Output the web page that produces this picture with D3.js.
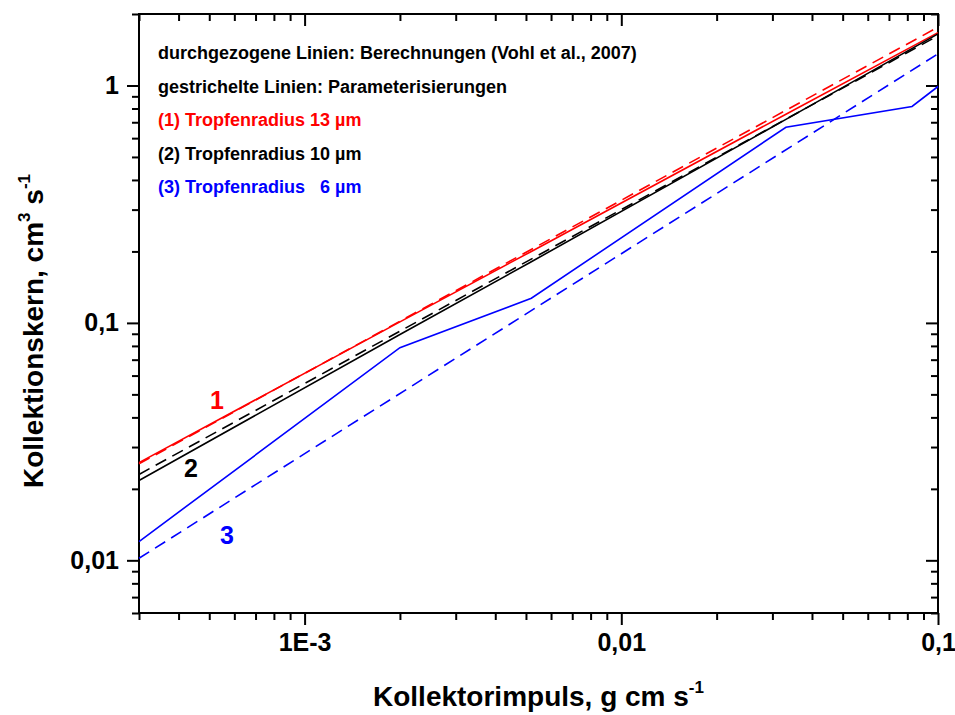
<!DOCTYPE html>
<html lang="de">
<head>
<meta charset="utf-8">
<title>Kollektionskern</title>
<script src="https://d3js.org/d3.v7.min.js"></script>
<style>
  body{margin:0;background:#fff;font-family:"Liberation Sans",Arial,sans-serif;}
  .axis path{stroke:#000;stroke-width:2px;}
  .axis line{stroke:#000;stroke-width:2px;}
  .axis text{font-size:25px;font-weight:bold;fill:#000;font-family:"Liberation Sans",Arial,sans-serif;}
</style>
</head>
<body>
<div id="chart"></div>
<script>
// data (x: g cm/s, y: cm^3/s)
var redSolid   = [[3e-4,0.0258],[2e-3,0.101],[5.2e-3,0.2],[0.0331,0.757],[0.1,1.67]]
var redDashed  = [[3e-4,0.0255],[0.1,1.76]]
var blackSolid = [[3e-4,0.0217],[2e-3,0.0893],[5.2e-3,0.181],[0.0331,0.72],[0.1,1.65]]
var blackDashed= [[3e-4,0.023],[0.1,1.62]]
var blueSolid  = [[3e-4,0.012],[2e-3,0.0786],[5.2e-3,0.127],[0.0331,0.667],[0.0828,0.816],[0.1,0.99]]
var blueDashed = [[3e-4,0.0102],[0.1,1.36]]

var xMajor = [1e-3,0.01,0.1]
var xLabels = ["1E-3","0,01","0,1"]
var yMajor = [0.01,0.1,1]
var yLabels = ["0,01","0,1","1"]

var legendLines = [
  ["durchgezogene Linien: Berechnungen (Vohl et al., 2007)","#000"],
  ["gestrichelte Linien: Parameterisierungen","#000"],
  ["(1) Tropfenradius 13 \u00b5m","#ff0000"],
  ["(2) Tropfenradius 10 \u00b5m","#000"],
  ["(3) Tropfenradius \u00a0\u00a06 \u00b5m","#0000ff"]
]

var W = 955, H = 715
var pL = 139, pR = 938, pT = 14, pB = 613

var svg = d3.select("#chart").append("svg").attr("width",W).attr("height",H)

var x = d3.scaleLog().domain([3e-4,0.1]).range([pL,pR])
var y = d3.scaleLog().domain([0.006,2]).range([pB,pT])

// minor tick values
var xMinor = []
;[1e-4,1e-3,1e-2].forEach(function(d){
  for(var k=2;k<=9;k++){ var v=d*k; if(v>=3e-4-1e-12 && v<=0.1) xMinor.push(v) }
})
var yMinor = []
;[1e-3,1e-2,1e-1,1].forEach(function(d){
  for(var k=2;k<=9;k++){ var v=d*k; if(v>=0.006-1e-12 && v<=2+1e-9) yMinor.push(v) }
})

function fmt(vals,labels){ return function(d){ var i=vals.indexOf(d); return i<0?"":labels[i] } }

// bottom: outward
svg.append("g").attr("class","axis").attr("transform","translate(0,"+pB+")")
  .call(d3.axisBottom(x).tickValues(xMinor).tickSize(7).tickFormat(""))
svg.append("g").attr("class","axis").attr("transform","translate(0,"+pB+")")
  .call(d3.axisBottom(x).tickValues(xMajor).tickSize(12).tickPadding(8).tickFormat(fmt(xMajor,xLabels)))
// top: inward
svg.append("g").attr("class","axis").attr("transform","translate(0,"+pT+")")
  .call(d3.axisBottom(x).tickValues(xMinor).tickSize(7).tickFormat(""))
svg.append("g").attr("class","axis").attr("transform","translate(0,"+pT+")")
  .call(d3.axisBottom(x).tickValues(xMajor).tickSize(12).tickFormat(""))
// left: outward
svg.append("g").attr("class","axis").attr("transform","translate("+pL+",0)")
  .call(d3.axisLeft(y).tickValues(yMinor).tickSize(7).tickFormat(""))
svg.append("g").attr("class","axis").attr("transform","translate("+pL+",0)")
  .call(d3.axisLeft(y).tickValues(yMajor).tickSize(12).tickPadding(8).tickFormat(fmt(yMajor,yLabels)))
// right: inward
svg.append("g").attr("class","axis").attr("transform","translate("+pR+",0)")
  .call(d3.axisLeft(y).tickValues(yMinor).tickSize(7).tickFormat(""))
svg.append("g").attr("class","axis").attr("transform","translate("+pR+",0)")
  .call(d3.axisLeft(y).tickValues(yMajor).tickSize(12).tickFormat(""))

svg.selectAll(".axis path").remove()
svg.append("rect").attr("x",pL).attr("y",pT).attr("width",pR-pL).attr("height",pB-pT)
  .attr("fill","none").attr("stroke","#000").attr("stroke-width",2)

var line = d3.line().x(function(d){return x(d[0])}).y(function(d){return y(d[1])})
var series = [
  [redDashed,"#ff0000",true],
  [blackDashed,"#000",true],
  [blueDashed,"#0000ff",true],
  [redSolid,"#ff0000",false],
  [blackSolid,"#000",false],
  [blueSolid,"#0000ff",false]
]
series.forEach(function(s){
  svg.append("path").datum(s[0]).attr("d",line)
    .attr("fill","none").attr("stroke",s[1]).attr("stroke-width",1.6)
    .attr("stroke-dasharray",s[2]?"12,7":null)
})

// curve numbers
var nums = [["1",217,409,"#ff0000"],["2",191,477,"#000"],["3",227,544,"#0000ff"]]
nums.forEach(function(n){
  svg.append("text").attr("x",n[1]).attr("y",n[2]).text(n[0]).attr("fill",n[3])
    .style("font-size","25px").style("font-weight","bold").attr("text-anchor","middle")
})

// legend text
svg.selectAll(".leg").data(legendLines).enter().append("text")
  .attr("x",158).attr("y",function(d,i){return 59+i*33.5})
  .attr("fill",function(d){return d[1]})
  .style("font-size","18px").style("font-weight","bold")
  .text(function(d){return d[0]})

// axis titles
var xt = svg.append("text").attr("x",(pL+pR)/2).attr("y",706).attr("text-anchor","middle")
  .style("font-size","28px").style("font-weight","bold")
xt.append("tspan").text("Kollektorimpuls, g cm s")
xt.append("tspan").attr("dy",-13).style("font-size","17px").text("-1")

var yt = svg.append("text").attr("transform","translate(43,331) rotate(-90)").attr("text-anchor","middle")
  .style("font-size","28px").style("font-weight","bold")
yt.append("tspan").text("Kollektionskern, cm")
yt.append("tspan").attr("dy",-13).style("font-size","17px").text("3")
yt.append("tspan").attr("dy",13).text(" s")
yt.append("tspan").attr("dy",-13).style("font-size","17px").text("-1")
</script>
</body>
</html>
